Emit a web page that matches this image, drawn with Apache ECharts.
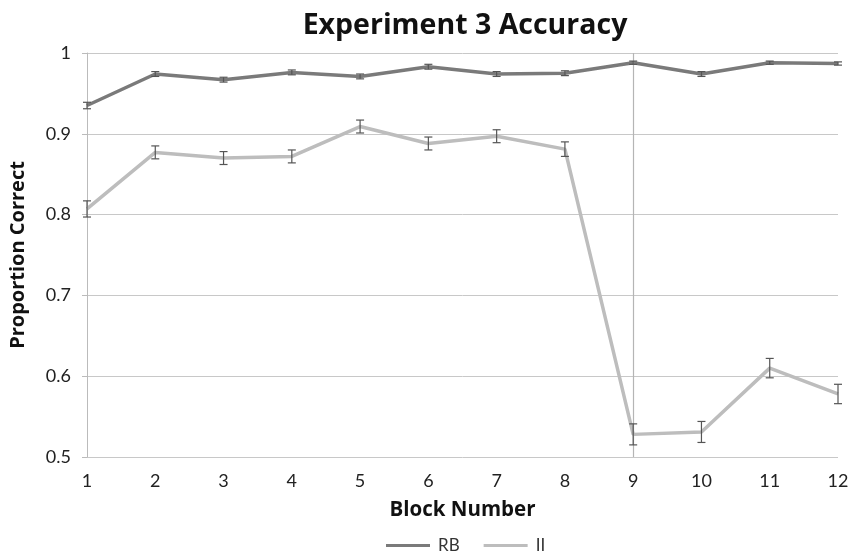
<!DOCTYPE html>
<html>
<head>
<meta charset="utf-8">
<script src="https://cdn.jsdelivr.net/npm/echarts@6/dist/echarts.min.js"></script>
<style>
  html, body { margin: 0; padding: 0; background: #fff; }
  #chart { width: 852px; height: 551px; }
</style>
</head>
<body>
<div id="chart"></div>
<script>
// Block numbers along the x axis
const blocks = [1, 2, 3, 4, 5, 6, 7, 8, 9, 10, 11, 12];
// Mean proportion correct per block
const rbMean = [0.935, 0.974, 0.967, 0.976, 0.971, 0.983, 0.974, 0.975, 0.988, 0.974, 0.988, 0.987];
const iiMean = [0.807, 0.877, 0.870, 0.872, 0.909, 0.888, 0.897, 0.881, 0.528, 0.531, 0.610, 0.578];
// Standard error per block
const rbErr = [0.004, 0.003, 0.003, 0.003, 0.003, 0.003, 0.003, 0.003, 0.002, 0.003, 0.002, 0.002];
const iiErr = [0.010, 0.008, 0.008, 0.008, 0.008, 0.008, 0.008, 0.009, 0.013, 0.013, 0.012, 0.012];
// Y axis tick values
const yTicks = [0.5, 0.6, 0.7, 0.8, 0.9, 1];
const switchBlock = 9;

const titleFont = '"Open Sans", Lato, sans-serif';
const tickFont = 'Lato, "Open Sans", sans-serif';

function errorSeries(mean, err) {
  return {
    type: 'custom',
    silent: true,
    z: 5,
    data: blocks.map((b, i) => [b, mean[i] - err[i], mean[i] + err[i]]),
    renderItem: function (params, api) {
      const x = api.value(0);
      const lo = api.coord([x, api.value(1)]);
      const hi = api.coord([x, api.value(2)]);
      const cap = 4;
      const style = { stroke: '#555', lineWidth: 1.2 };
      return {
        type: 'group',
        children: [
          { type: 'line', shape: { x1: lo[0], y1: lo[1], x2: hi[0], y2: hi[1] }, style: style },
          { type: 'line', shape: { x1: lo[0] - cap, y1: lo[1], x2: lo[0] + cap, y2: lo[1] }, style: style },
          { type: 'line', shape: { x1: hi[0] - cap, y1: hi[1], x2: hi[0] + cap, y2: hi[1] }, style: style }
        ]
      };
    }
  };
}

const chart = echarts.init(document.getElementById('chart'));
chart.setOption({
  backgroundColor: '#fff',
  animation: false,
  title: {
    text: 'Experiment 3 Accuracy',
    left: 460,
    textAlign: 'center',
    top: 6,
    textStyle: { fontFamily: titleFont, fontWeight: 'bold', fontSize: 28.5, color: '#111' }
  },
  legend: {
    top: 532,
    left: 381,
    icon: 'rect',
    itemWidth: 44,
    itemHeight: 3,
    itemGap: 24,
    textStyle: { fontFamily: tickFont, fontSize: 17, color: '#333', padding: [0, 0, 0, 3] },
    data: ['RB', 'II']
  },
  grid: { left: 86, right: 14, top: 53, bottom: 94 },
  xAxis: {
    type: 'value',
    min: 1,
    max: 12,
    interval: 1,
    name: 'Block Number',
    nameLocation: 'middle',
    nameGap: 43,
    nameTextStyle: { fontFamily: titleFont, fontWeight: 'bold', fontSize: 20.5, color: '#111' },
    axisLine: { show: false },
    axisTick: { show: false },
    splitLine: { show: false },
    axisLabel: { fontFamily: tickFont, fontSize: 18, color: '#222', margin: 15 }
  },
  yAxis: {
    type: 'value',
    min: 0.5,
    max: 1,
    interval: 0.1,
    name: 'Proportion Correct',
    nameLocation: 'middle',
    nameGap: 59,
    nameTextStyle: { fontFamily: titleFont, fontWeight: 'bold', fontSize: 20, color: '#111' },
    axisLine: { show: true, lineStyle: { color: '#bbb', width: 1 } },
    axisTick: { show: true, length: 5, lineStyle: { color: '#bbb' } },
    splitLine: { show: true, lineStyle: { color: '#c8c8c8', width: 1 } },
    axisLabel: {
      fontFamily: tickFont, fontSize: 18, color: '#222', margin: 16,
      formatter: v => {
        const t = yTicks.find(y => Math.abs(y - v) < 1e-6);
        return t === undefined ? '' : String(t);
      }
    }
  },
  series: [
    {
      name: 'RB',
      type: 'line',
      data: blocks.map((b, i) => [b, rbMean[i]]),
      symbol: 'none',
      lineStyle: { color: '#7a7a7a', width: 3.5 },
      itemStyle: { color: '#7a7a7a' },
      z: 3,
      markLine: {
        silent: true,
        symbol: 'none',
        label: { show: false },
        lineStyle: { color: '#b5b5b5', width: 1.2, type: 'solid' },
        data: [{ xAxis: switchBlock }]
      }
    },
    {
      name: 'II',
      type: 'line',
      data: blocks.map((b, i) => [b, iiMean[i]]),
      symbol: 'none',
      lineStyle: { color: '#bdbdbd', width: 3.5 },
      itemStyle: { color: '#bdbdbd' },
      z: 3
    },
    errorSeries(rbMean, rbErr),
    errorSeries(iiMean, iiErr)
  ]
});
</script>
</body>
</html>
